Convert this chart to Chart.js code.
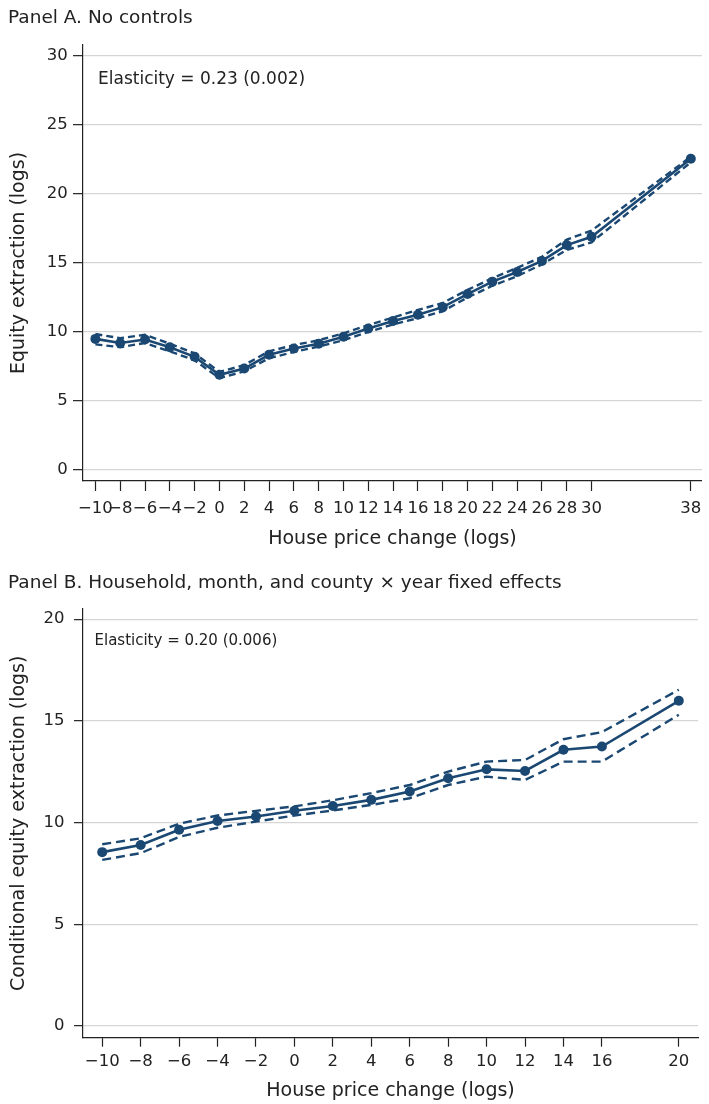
<!DOCTYPE html>
<html>
<head>
<meta charset="utf-8">
<script src="https://cdn.jsdelivr.net/npm/chart.js@4.4.0/dist/chart.umd.min.js"></script>
<style>
  html, body { margin: 0; padding: 0; background: #fff; }
  body { width: 709px; height: 1104px; position: relative; overflow: hidden;
         font-family: "DejaVu Sans", sans-serif; color: #222; }
  .panel-title { position: absolute; left: 8px; font-size: 18.5px; line-height: 18.5px; white-space: nowrap; }
  .note { position: absolute; white-space: nowrap; color: #222; }
  .wrap { position: absolute; left: 0; width: 709px; }
</style>
</head>
<body>
<div class="wrap" style="top:0;height:560px"><canvas id="chartA"></canvas></div>
<div class="wrap" style="top:560px;height:544px"><canvas id="chartB"></canvas></div>

<div class="panel-title" style="top:8.4px">Panel A. No controls</div>
<div class="note" style="left:98px;top:69.7px;font-size:17px;line-height:17px">Elasticity = 0.23 (0.002)</div>

<div class="panel-title" style="top:572.6px">Panel B. Household, month, and county × year fixed effects</div>
<div class="note" style="left:94.5px;top:633.3px;font-size:15px;line-height:15px">Elasticity = 0.20 (0.006)</div>

<script>
// Panel A: no controls
const priceChangeA = [-10, -8, -6, -4, -2, 0, 2, 4, 6, 8, 10, 12, 14, 16, 18, 20, 22, 24, 26, 28, 30, 38];
const extractionA  = [9.5, 9.2, 9.45, 8.9, 8.2, 6.9, 7.35, 8.35, 8.8, 9.15, 9.65, 10.25, 10.8, 11.25, 11.8, 12.75, 13.65, 14.35, 15.15, 16.3, 16.9, 22.55];
const upperA       = [9.85, 9.55, 9.8, 9.15, 8.45, 7.1, 7.6, 8.6, 9.05, 9.4, 9.9, 10.5, 11.05, 11.6, 12.1, 13.05, 13.9, 14.65, 15.45, 16.7, 17.35, 22.7];
const lowerA       = [9.1, 8.9, 9.2, 8.6, 7.95, 6.65, 7.15, 8.1, 8.55, 8.95, 9.4, 10.0, 10.55, 11.0, 11.5, 12.5, 13.35, 14.05, 14.9, 15.95, 16.5, 22.3];
const xTicksA = [-10, -8, -6, -4, -2, 0, 2, 4, 6, 8, 10, 12, 14, 16, 18, 20, 22, 24, 26, 28, 30, 38];
const yTicksA = [0, 5, 10, 15, 20, 25, 30];

// Panel B: household, month, and county x year fixed effects
const priceChangeB = [-10, -8, -6, -4, -2, 0, 2, 4, 6, 8, 10, 12, 14, 16, 20];
const extractionB  = [8.55, 8.9, 9.65, 10.08, 10.3, 10.58, 10.82, 11.12, 11.53, 12.18, 12.62, 12.54, 13.58, 13.74, 15.99];
const upperB       = [8.94, 9.23, 9.95, 10.35, 10.58, 10.8, 11.1, 11.45, 11.85, 12.51, 13.0, 13.08, 14.1, 14.45, 16.53];
const lowerB       = [8.17, 8.5, 9.3, 9.75, 10.05, 10.35, 10.6, 10.87, 11.2, 11.85, 12.26, 12.1, 13.0, 13.0, 15.3];
const xTicksB = [-10, -8, -6, -4, -2, 0, 2, 4, 6, 8, 10, 12, 14, 16, 20];
const yTicksB = [0, 5, 10, 15, 20];

const NAVY = '#1a4872';
const INK = '#222222';
const FONT = '"DejaVu Sans", sans-serif';

const fmt = v => (v < 0 ? '\u2212' + Math.abs(v) : String(v));
const pts = (xs, ys) => xs.map((x, i) => ({ x, y: ys[i] }));

function buildChart(id, cfg) {
  const series = [
    { data: pts(cfg.x, cfg.est), borderColor: NAVY, backgroundColor: NAVY, borderWidth: 2.6,
      pointRadius: 5, pointBackgroundColor: NAVY, pointBorderWidth: 0, showLine: true },
    { data: pts(cfg.x, cfg.up), borderColor: NAVY, borderWidth: 2.4, borderDash: cfg.dash,
      pointRadius: 0, showLine: true },
    { data: pts(cfg.x, cfg.lo), borderColor: NAVY, borderWidth: 2.4, borderDash: cfg.dash,
      pointRadius: 0, showLine: true }
  ];
  return new Chart(document.getElementById(id), {
    type: 'scatter',
    data: { datasets: series },
    options: {
      responsive: true,
      maintainAspectRatio: false,
      animation: false,
      events: [],
      layout: { padding: { top: cfg.padTop, right: cfg.padRight, left: 0, bottom: 0 } },
      plugins: { legend: { display: false }, tooltip: { enabled: false } },
      scales: {
        x: {
          type: 'linear', min: cfg.xMin, max: cfg.xMax,
          afterFit: s => { s.height = cfg.xAxisHeight; },
          afterBuildTicks: s => { s.ticks = cfg.xTicks.map(v => ({ value: v })); },
          grid: { drawOnChartArea: false, drawTicks: true, tickLength: cfg.tickLen, tickColor: INK, tickWidth: 1.2 },
          border: { display: true, color: INK, width: 1.2 },
          ticks: { autoSkip: false, maxRotation: 0, minRotation: 0, padding: cfg.xTickPad,
                   color: INK, font: { family: FONT, size: 16.5 }, callback: v => fmt(v) },
          title: { display: true, text: 'House price change (logs)', color: INK,
                   font: { family: FONT, size: 19 }, padding: { top: 0, bottom: cfg.xTitlePad } }
        },
        y: {
          type: 'linear', min: cfg.yMin, max: cfg.yMax,
          afterFit: s => { s.width = 83; },
          afterBuildTicks: s => { s.ticks = cfg.yTicks.map(v => ({ value: v })); },
          grid: { drawOnChartArea: true, color: '#d5d5d5', lineWidth: 1.3,
                  drawTicks: true, tickLength: cfg.tickLen, tickColor: INK, tickWidth: 1.2 },
          border: { display: true, color: INK, width: 1.2 },
          ticks: { padding: cfg.yTickPad, color: INK, font: { family: FONT, size: 16.5 }, callback: v => fmt(v) },
          title: { display: true, text: cfg.yTitle, color: INK,
                   font: { family: FONT, size: 19 }, padding: { top: 7.6, bottom: 0 } }
        }
      }
    }
  });
}

buildChart('chartA', {
  x: priceChangeA, est: extractionA, up: upperA, lo: lowerA,
  xTicks: xTicksA, yTicks: yTicksA, dash: [7, 4],
  xMin: -11, xMax: 38.9, yMin: -0.8, yMax: 30.8,
  padTop: 45, padRight: 0, xAxisHeight: 79,
  tickLen: 10, xTickPad: 7.6, yTickPad: 5.2, xTitlePad: 9.6,
  yTitle: 'Equity extraction (logs)'
});

buildChart('chartB', {
  x: priceChangeB, est: extractionB, up: upperB, lo: lowerB,
  xTicks: xTicksB, yTicks: yTicksB, dash: [9, 5],
  xMin: -11, xMax: 21, yMin: -0.57, yMax: 20.5,
  padTop: 49, padRight: 11, xAxisHeight: 66.3,
  tickLen: 9, xTickPad: 5.4, yTickPad: 9.6, xTitlePad: 1.6,
  yTitle: 'Conditional equity extraction (logs)'
});
</script>
</body>
</html>
